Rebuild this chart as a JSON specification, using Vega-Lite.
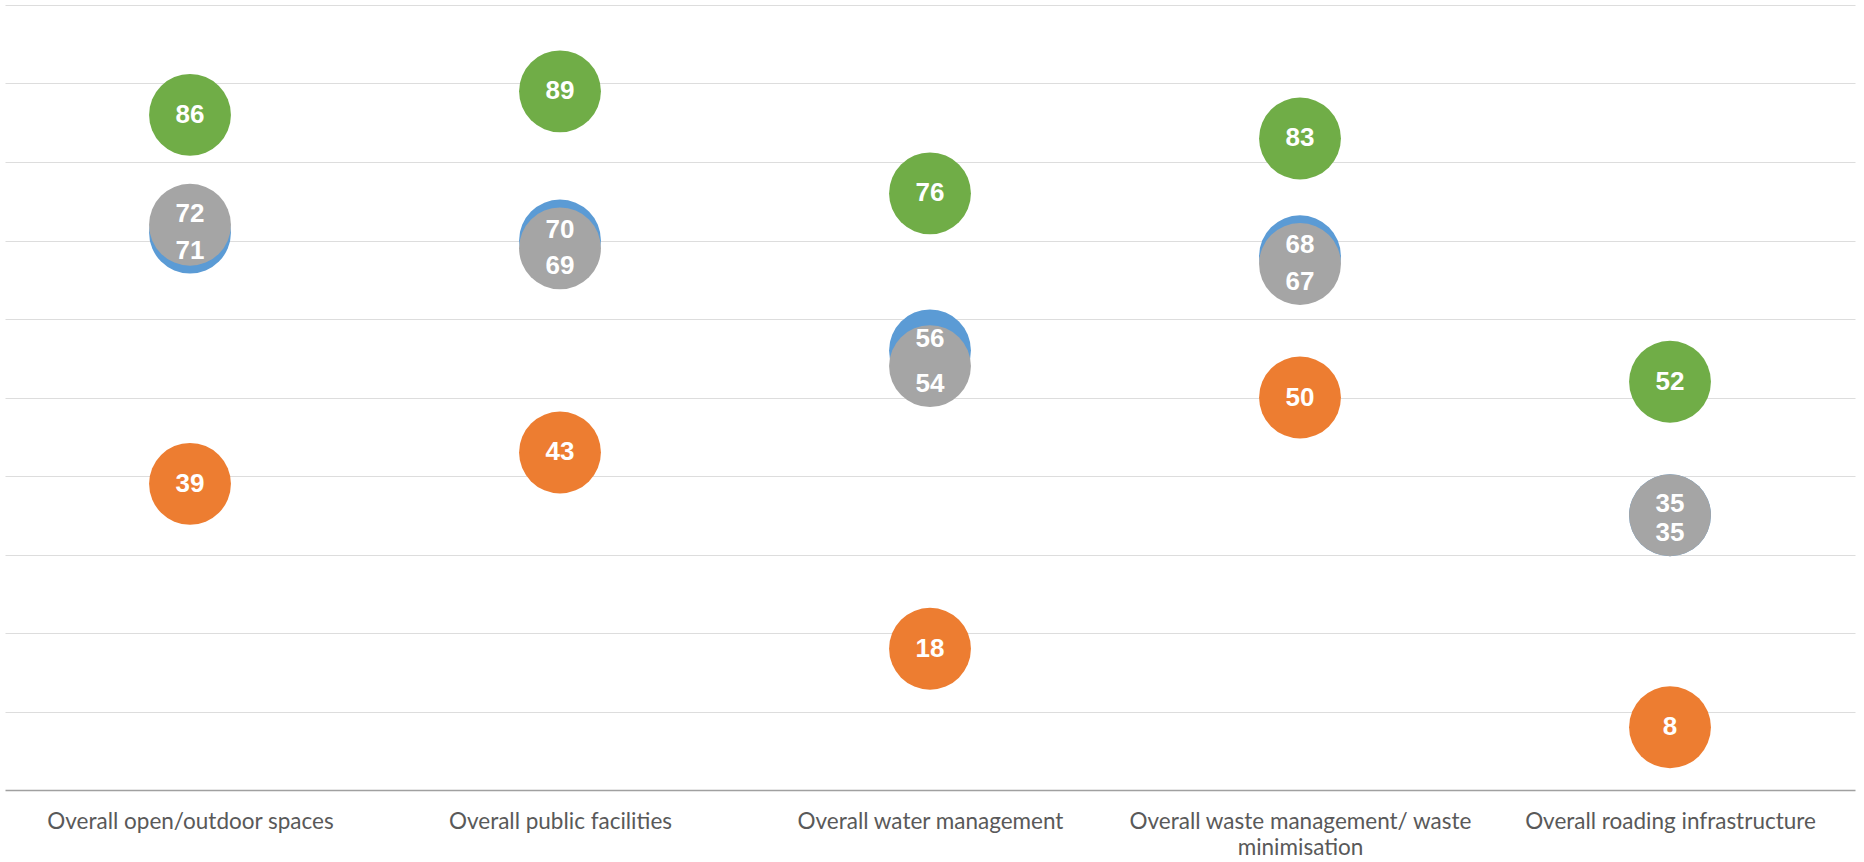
{
  "$schema": "https://vega.github.io/schema/vega-lite/v6.json",
  "autosize": {"type": "none"},
  "width": 1850,
  "height": 785,
  "padding": {"left": 5, "top": 5, "right": 9, "bottom": 72},
  "background": "white",
  "config": {"view": {"stroke": null}},
  "data": {
    "values": [
      {"category": "Overall open/outdoor spaces", "series": "Blue", "value": 71},
      {"category": "Overall public facilities", "series": "Blue", "value": 70},
      {"category": "Overall water management", "series": "Blue", "value": 56},
      {"category": "Overall waste management/ waste minimisation", "series": "Blue", "value": 68},
      {"category": "Overall roading infrastructure", "series": "Blue", "value": 35},
      {"category": "Overall open/outdoor spaces", "series": "Gray", "value": 72},
      {"category": "Overall public facilities", "series": "Gray", "value": 69},
      {"category": "Overall water management", "series": "Gray", "value": 54},
      {"category": "Overall waste management/ waste minimisation", "series": "Gray", "value": 67},
      {"category": "Overall roading infrastructure", "series": "Gray", "value": 35},
      {"category": "Overall open/outdoor spaces", "series": "Green", "value": 86},
      {"category": "Overall public facilities", "series": "Green", "value": 89},
      {"category": "Overall water management", "series": "Green", "value": 76},
      {"category": "Overall waste management/ waste minimisation", "series": "Green", "value": 83},
      {"category": "Overall roading infrastructure", "series": "Green", "value": 52},
      {"category": "Overall open/outdoor spaces", "series": "Orange", "value": 39},
      {"category": "Overall public facilities", "series": "Orange", "value": 43},
      {"category": "Overall water management", "series": "Orange", "value": 18},
      {"category": "Overall waste management/ waste minimisation", "series": "Orange", "value": 50},
      {"category": "Overall roading infrastructure", "series": "Orange", "value": 8}
    ]
  },
  "encoding": {
    "x": {
      "field": "category",
      "type": "nominal",
      "sort": null,
      "scale": {"paddingInner": 0, "paddingOuter": 0},
      "axis": {
        "title": null,
        "labelAngle": 0,
        "ticks": false,
        "domainColor": "#a0a0a0",
        "domainWidth": 1.5,
        "grid": false,
        "labelFont": "Lato",
        "labelFontSize": 22.5,
        "labelColor": "#595959",
        "labelPadding": 20,
        "labelBaseline": "top",
        "labelLineHeight": 26,
        "labelLimit": 0,
        "labelExpr": "datum.label == 'Overall waste management/ waste minimisation' ? ['Overall waste management/ waste', 'minimisation'] : datum.label"
      }
    },
    "y": {
      "field": "value",
      "type": "quantitative",
      "scale": {"domain": [0, 100], "nice": false},
      "axis": {
        "title": null,
        "labels": false,
        "ticks": false,
        "domain": false,
        "grid": true,
        "values": [10, 20, 30, 40, 50, 60, 70, 80, 90, 100],
        "gridWidth": 1.2,
        "encode": {
          "grid": {
            "update": {
              "stroke": {"signal": "'rgb(' + round(170 + (datum.value - 10) * 0.6) + ',' + round(170 + (datum.value - 10) * 0.6) + ',' + round(170 + (datum.value - 10) * 0.6) + ')'"}
            }
          }
        }
      }
    }
  },
  "layer": [
    {
      "mark": {"type": "circle", "size": 6700, "opacity": 1},
      "encoding": {
        "color": {
          "field": "series",
          "type": "nominal",
          "scale": {"domain": ["Blue", "Gray", "Green", "Orange"], "range": ["#5b9bd5", "#a5a5a5", "#70ad47", "#ed7d31"]},
          "legend": null
        }
      }
    },
    {
      "transform": [{"filter": "datum.series == 'Green' || datum.series == 'Orange'"}],
      "mark": {"type": "text", "font": "Liberation Sans", "fontWeight": "bold", "fontSize": 26, "color": "white", "baseline": "middle", "align": "center"},
      "encoding": {"text": {"field": "value", "type": "quantitative"}}
    },
    {
      "transform": [
        {"filter": "datum.series == 'Blue' || datum.series == 'Gray'"},
        {"window": [{"op": "row_number", "as": "rn"}], "groupby": ["category"], "sort": [{"field": "value", "order": "descending"}, {"field": "series", "order": "ascending"}]},
        {"filter": "datum.rn == 1"}
      ],
      "mark": {"type": "text", "font": "Liberation Sans", "fontWeight": "bold", "fontSize": 26, "color": "white", "baseline": "middle", "align": "center", "dy": -11},
      "encoding": {"text": {"field": "value", "type": "quantitative"}}
    },
    {
      "transform": [
        {"filter": "datum.series == 'Blue' || datum.series == 'Gray'"},
        {"window": [{"op": "row_number", "as": "rn"}], "groupby": ["category"], "sort": [{"field": "value", "order": "descending"}, {"field": "series", "order": "ascending"}]},
        {"filter": "datum.rn == 2"}
      ],
      "mark": {"type": "text", "font": "Liberation Sans", "fontWeight": "bold", "fontSize": 26, "color": "white", "baseline": "middle", "align": "center", "dy": 18},
      "encoding": {"text": {"field": "value", "type": "quantitative"}}
    }
  ]
}
